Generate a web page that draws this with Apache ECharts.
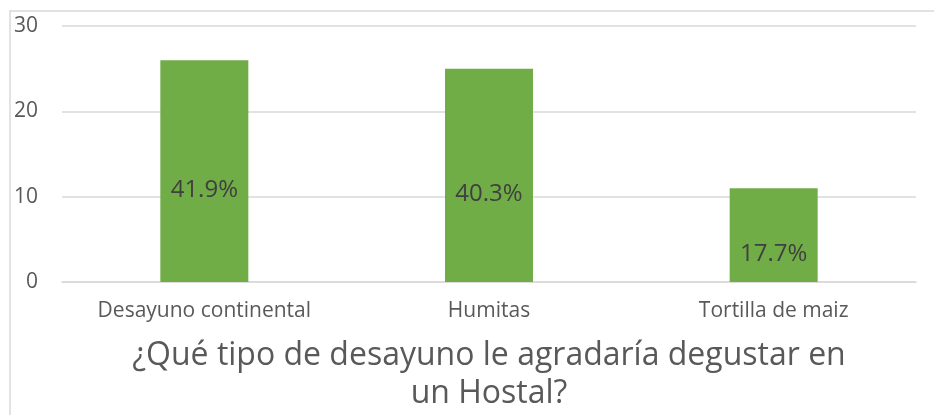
<!DOCTYPE html>
<html><head><meta charset="utf-8">
<script src="https://cdn.jsdelivr.net/npm/echarts@6/dist/echarts.min.js"></script>
<style>html,body{margin:0;padding:0;background:#fff}#c{width:934px;height:415px}</style>
</head><body><div id="c"></div>
<script>
var categories = ["Desayuno continental", "Humitas", "Tortilla de maiz"];
var values = [26, 25, 11];
var percentLabels = ["41.9%", "40.3%", "17.7%"];
var yTicks = [0, 10, 20, 30];
var titleText = "¿Qué tipo de desayuno le agradaría degustar en\nun Hostal?";

var chart = echarts.init(document.getElementById('c'), null, {renderer: 'canvas'});
var font = '"Open Sans", "Noto Sans", sans-serif';
chart.setOption({
  animation: false,
  textStyle: {fontFamily: font},
  graphic: [{type: 'rect', shape: {x: 10, y: 11, width: 940, height: 420}, style: {fill: 'none', stroke: '#d9d9d9', lineWidth: 1.5}, silent: true}],
  title: {
    text: titleText, left: 484, top: 332, textAlign: 'center',
    textStyle: {fontFamily: font, fontSize: 32, fontWeight: 'normal', color: '#595959', lineHeight: 38}
  },
  grid: {left: 62, right: 18, top: 26, bottom: 133, containLabel: false},
  xAxis: {
    type: 'category', data: categories,
    axisLine: {lineStyle: {color: '#d9d9d9', width: 1.5}},
    axisTick: {show: false},
    axisLabel: {color: '#595959', fontSize: 21, margin: 19, fontFamily: font}
  },
  yAxis: {
    type: 'value', min: 0, max: 30, interval: 10,
    axisLine: {show: false}, axisTick: {show: false},
    splitLine: {lineStyle: {color: '#d9d9d9', width: 1.5}},
    axisLabel: {color: '#595959', fontSize: 21, margin: 24, fontFamily: font}
  },
  series: [{
    type: 'bar', data: values, barWidth: 88,
    itemStyle: {color: '#70ad47'},
    label: {
      show: true, position: 'inside', offset: [0, 19],
      formatter: function (p) { return percentLabels[p.dataIndex]; },
      color: '#404040', fontSize: 24, fontFamily: font
    }
  }]
});
</script></body></html>
